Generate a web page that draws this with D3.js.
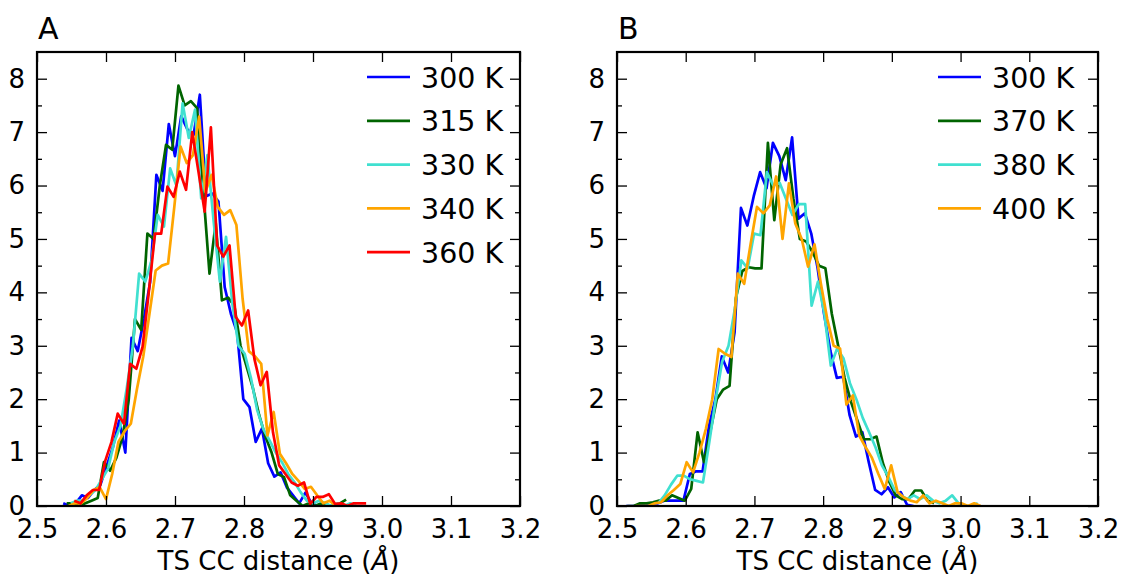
<!DOCTYPE html>
<html>
<head>
<meta charset="utf-8">
<script src="https://cdn.jsdelivr.net/npm/d3@7"></script>
<style>
  body { margin: 0; background: #fff; }
  text { font-family: "DejaVu Sans", sans-serif; fill: #000; }
</style>
</head>
<body>
<div id="chart"></div>
<script>
// Histogram densities of the TS C-C distance.
// Each series: first bin centre + common bin width per panel.
const xTicks = [2.5, 2.6, 2.7, 2.8, 2.9, 3.0, 3.1, 3.2];
const yTicks = [0, 1, 2, 3, 4, 5, 6, 7, 8];
const yMinorTicks = [0.5, 1.5, 2.5, 3.5, 4.5, 5.5, 6.5, 7.5];

// Panel A
const labelsA = ['300 K', '315 K', '330 K', '340 K', '360 K'];
const colorsA = ['#0000ff', '#006400', '#40e0d0', '#ffa500', '#ff0000'];
const binWidthA = 0.009;
const startsA = [2.538, 2.543, 2.549, 2.546, 2.554];
const a300 = [0.05,0.0,0.05,0.2,0.15,0.3,0.4,0.75,1.1,1.6,1.0,3.15,2.9,3.5,4.2,6.2,5.9,7.15,6.55,7.3,7.05,6.95,7.7,5.8,5.85,5.7,4.1,3.6,3.25,2.0,1.85,1.2,1.45,0.8,0.55,0.63,0.35,0.2,0.05,0.25,0.05,0.0,0.05,0.0,0.0];
const a315 = [0.05,0.05,0.0,0.05,0.1,0.15,0.82,0.66,0.9,1.3,2.0,3.5,3.3,5.1,5.0,6.0,6.76,6.67,7.87,7.5,7.58,7.45,5.9,4.35,5.3,3.85,3.9,3.75,3.0,2.6,2.2,1.7,1.3,1.0,0.6,0.54,0.2,0.1,0.0,0.05,0.0,0.05,0.0,0.0,0.05,0.12];
const a330 = [0.05,0.1,0.1,0.2,0.3,0.5,0.7,1.2,1.5,2.2,3.0,4.35,4.2,4.6,5.45,5.23,6.32,6.0,7.54,6.89,7.42,5.76,6.57,5.33,4.2,5.04,3.8,3.0,2.85,2.4,1.8,1.44,1.23,1.0,0.82,0.6,0.45,0.26,0.1,0.05,0.1,0.05,0.0,0.05,0.0,0.05,0.0];
const a340 = [0.0,0.05,0.05,0.15,0.3,0.35,0.13,0.6,1.2,1.4,1.54,2.2,2.8,3.6,4.41,4.5,4.54,5.6,6.73,6.42,6.57,7.29,5.88,6.2,5.6,5.45,5.54,5.26,3.88,2.9,2.8,2.66,1.32,1.76,0.98,0.8,0.6,0.47,0.32,0.36,0.2,0.05,0.1,0.0];
const a360 = [0.1,0.05,0.2,0.3,0.3,0.85,1.2,1.73,1.54,2.66,2.57,2.98,4.0,5.1,5.1,5.98,5.79,6.26,5.92,7.0,6.26,5.51,7.09,4.88,4.67,4.88,3.54,3.38,3.66,2.76,2.26,2.51,1.38,0.76,0.6,0.44,0.38,0.44,0.04,0.17,0.17,0.22,0.04,0.05,0.0,0.05,0.05,0.05];

// Panel B
const labelsB = ['300 K', '370 K', '380 K', '400 K'];
const colorsB = ['#0000ff', '#006400', '#40e0d0', '#ffa500'];
const binWidthB = 0.0093;
const startsB = [2.513, 2.515, 2.560, 2.527];
const b300 = [0.0,0.0,0.0,0.05,0.05,0.05,0.1,0.1,0.1,0.1,0.6,0.65,0.65,1.5,2.0,2.8,2.5,3.25,5.58,5.25,5.8,6.25,5.95,6.8,6.55,6.1,6.9,5.38,5.48,5.1,4.45,3.6,2.9,2.4,2.42,1.7,1.3,1.38,0.82,0.3,0.22,0.35,0.16,0.26,0.02,0.0];
const b370 = [0.0,0.0,0.05,0.05,0.07,0.1,0.1,0.2,0.15,0.1,0.32,1.38,0.82,1.4,2.0,2.18,2.25,3.9,4.4,4.47,4.45,4.45,6.8,5.35,6.4,6.7,5.75,5.0,4.95,4.75,4.5,4.45,3.6,3.0,2.4,1.95,1.6,1.25,1.25,1.3,0.8,0.45,0.2,0.13,0.13,0.29,0.29,0.1,0.05];
const b380 = [0.05,0.2,0.4,0.57,0.57,0.5,0.47,0.44,1.2,2.0,2.7,3.0,3.7,4.6,4.45,5.1,5.07,6.25,6.0,6.05,5.75,5.45,5.65,5.65,3.75,4.2,3.6,2.63,2.95,2.76,2.3,2.0,1.65,1.38,1.1,0.76,0.55,0.3,0.2,0.13,0.2,0.13,0.2,0.1,0.05,0.1,0.2,0.05,0.0,0.0,0.05];
const b400 = [0.0,0.0,0.0,0.05,0.07,0.2,0.3,0.41,0.82,0.63,1.0,1.44,2.0,2.94,2.85,2.79,4.35,4.16,4.9,5.6,5.48,5.63,6.17,5.0,6.04,5.29,5.0,4.48,4.9,4.16,3.5,3.0,2.95,1.9,2.07,1.32,1.1,0.9,0.6,0.32,0.76,0.26,0.16,0.1,0.07,0.2,0.05,0.1,0.05,0.0,0.05,0.05,0.0,0.05,0.0];

const width = 1122, height = 577;
const svg = d3.select('#chart').append('svg')
  .attr('width', width)
  .attr('height', height)
  .style('background', '#fff');

const fontSize = 26;
const legendFont = 28.5;

function drawPanel(p) {
  const x = d3.scaleLinear().domain([2.5, 3.2]).range([p.left, p.right]);
  const y = d3.scaleLinear().domain([0, 8.5]).range([p.bottom, p.top]);
  const g = svg.append('g');

  const clipId = 'clip-' + p.name;
  svg.append('clipPath').attr('id', clipId)
    .append('rect')
      .attr('x', p.left).attr('y', p.top)
      .attr('width', p.right - p.left).attr('height', p.bottom - p.top);

  // data lines
  const line = d3.line().x(d => x(d.x)).y(d => y(d.y));
  const lines = g.append('g').attr('clip-path', `url(#${clipId})`);
  p.series.forEach((vals, k) => {
    const pts = vals.map((v, i) => ({ x: p.starts[k] + i * p.binWidth, y: v }));
    lines.append('path')
      .datum(pts)
      .attr('d', line)
      .attr('fill', 'none')
      .attr('stroke', p.colors[k])
      .attr('stroke-width', 2.7)
      .attr('stroke-linejoin', 'round');
  });

  // axes, ticks pointing inward on all sides
  const styleAxis = sel => {
    sel.select('.domain').remove();
    sel.selectAll('.tick line').attr('stroke', '#000').attr('stroke-width', 1.3);
    sel.selectAll('.tick text').style('font-size', fontSize + 'px')
      .style('font-family', '"DejaVu Sans", sans-serif');
  };

  g.append('g').attr('transform', `translate(0,${p.bottom})`)
    .call(d3.axisBottom(x).tickValues(xTicks).tickFormat(d3.format('.1f'))
      .tickSize(-10).tickPadding(14))
    .call(styleAxis);
  g.append('g').attr('transform', `translate(0,${p.top})`)
    .call(d3.axisTop(x).tickValues(xTicks).tickFormat('').tickSize(-10))
    .call(styleAxis);
  g.append('g').attr('transform', `translate(${p.left},0)`)
    .call(d3.axisLeft(y).tickValues(yTicks).tickFormat(d3.format('d'))
      .tickSize(-10).tickPadding(12))
    .call(styleAxis);
  g.append('g').attr('transform', `translate(${p.left},0)`)
    .call(d3.axisLeft(y).tickValues(yMinorTicks).tickFormat('').tickSize(-5))
    .call(styleAxis);
  g.append('g').attr('transform', `translate(${p.right},0)`)
    .call(d3.axisRight(y).tickValues(yTicks).tickFormat('').tickSize(-10))
    .call(styleAxis);
  g.append('g').attr('transform', `translate(${p.right},0)`)
    .call(d3.axisRight(y).tickValues(yMinorTicks).tickFormat('').tickSize(-5))
    .call(styleAxis);

  // frame
  g.append('rect')
    .attr('x', p.left).attr('y', p.top)
    .attr('width', p.right - p.left).attr('height', p.bottom - p.top)
    .attr('fill', 'none').attr('stroke', '#000').attr('stroke-width', 2.2);

  // panel letter
  g.append('text')
    .attr('x', p.left + 1).attr('y', 39)
    .style('font-size', '30px')
    .text(p.name);

  // x label
  const xl = g.append('text')
    .attr('x', (p.left + p.right) / 2).attr('y', 570)
    .attr('text-anchor', 'middle')
    .style('font-size', fontSize + 'px');
  xl.append('tspan').text('TS CC distance (');
  xl.append('tspan').style('font-style', 'italic').text('Å');
  xl.append('tspan').text(')');

  // legend
  const leg = g.append('g');
  p.labels.forEach((lab, k) => {
    const ly = 77 + k * 43.8;
    leg.append('line')
      .attr('x1', p.legendX - 54).attr('x2', p.legendX - 11)
      .attr('y1', ly).attr('y2', ly)
      .attr('stroke', p.colors[k]).attr('stroke-width', 2.7);
    leg.append('text')
      .attr('x', p.legendX).attr('y', ly + 10.5)
      .style('font-size', legendFont + 'px')
      .text(lab);
  });
}

drawPanel({
  name: 'A', left: 37, right: 520, top: 52, bottom: 506, legendX: 421,
  series: [a300, a315, a330, a340, a360], starts: startsA, binWidth: binWidthA,
  colors: colorsA, labels: labelsA
});
drawPanel({
  name: 'B', left: 617, right: 1098, top: 52, bottom: 506, legendX: 992,
  series: [b300, b370, b380, b400], starts: startsB, binWidth: binWidthB,
  colors: colorsB, labels: labelsB
});
</script>
</body>
</html>
